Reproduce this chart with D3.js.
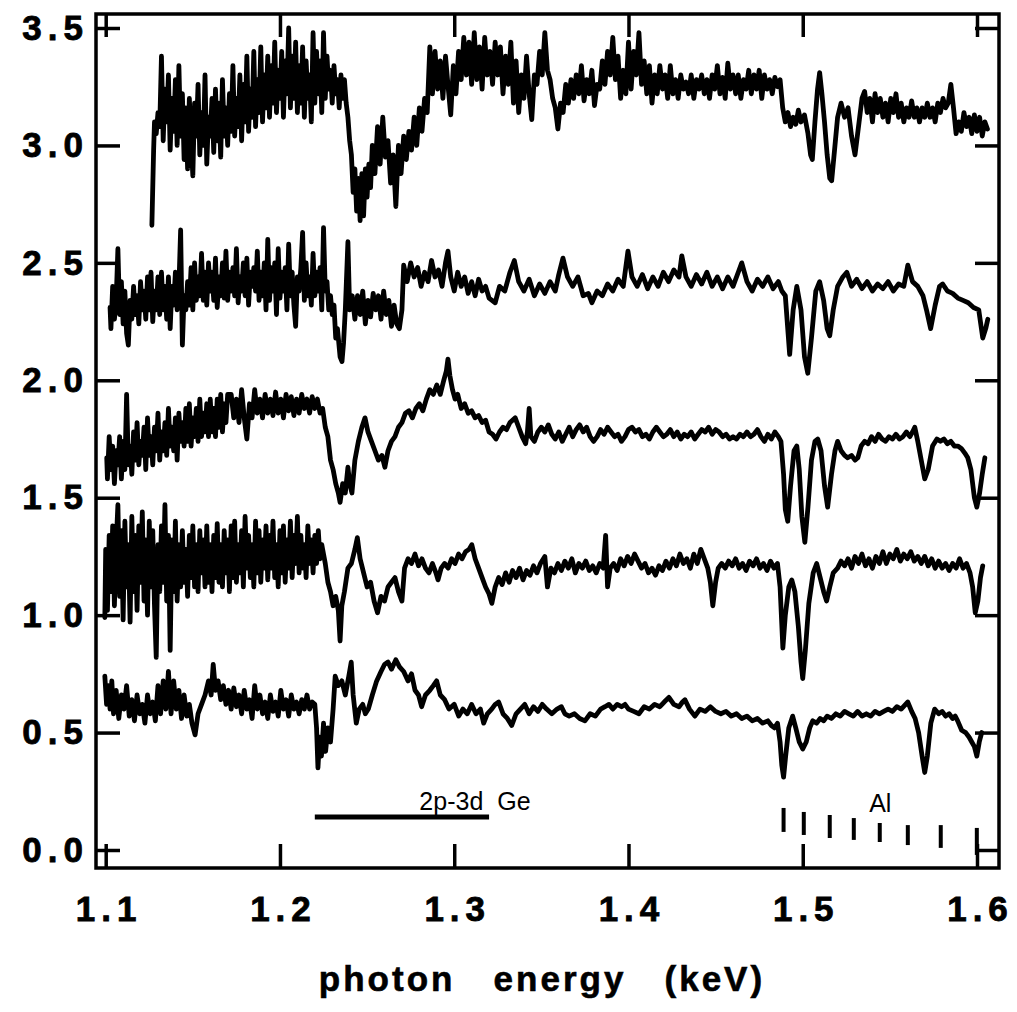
<!DOCTYPE html>
<html>
<head>
<meta charset="utf-8">
<script src="https://cdn.jsdelivr.net/npm/d3@7"></script>
<style>
  html, body { margin: 0; padding: 0; background: #fff; }
  svg { display: block; }
</style>
</head>
<body>
<svg id="chart" width="1017" height="1012"></svg>
<script>
// ---------------- DATA ----------------
const xTicks = [1.1, 1.2, 1.3, 1.4, 1.5, 1.6];
const yTicks = [0.0, 0.5, 1.0, 1.5, 2.0, 2.5, 3.0, 3.5];
const xTitle = "photon   energy   (keV)";
const geLabel = "2p-3d  Ge";
const geRange = [1.22, 1.32];
const alLabel = "Al";
const alLines = [1.489, 1.5006, 1.5155, 1.5293, 1.5442, 1.5603, 1.5792, 1.5999];
const alTops = [0.179, 0.162, 0.149, 0.136, 0.115, 0.106, 0.106, 0.094];
const alBottoms = [0.077, 0.064, 0.051, 0.043, 0.034, 0.021, 0.009, -0.021];

// detector channel width (keV) used by the densely sampled noisy segments
const channelStep = 0.001;

// ---- spectrum 1 (top) ----
const spectrum1Head = [[1.1265,2.66],[1.1275,2.98]];
const spectrum1DenseStart = 1.128;
const spectrum1Dense = [3.10,3.05,3.14,3.08,3.38,3.02,3.24,3.10,3.30,2.98,3.20,3.06,3.28,3.00,3.34,3.04,3.22,2.94,3.16,2.90,3.20,3.02,2.87,3.18,3.04,3.26,2.96,3.14,3.00,3.30,2.92,3.12,3.04,3.20,2.97,3.24,3.02,3.18,2.95,3.28,3.04,3.16,3.00,3.22,3.06,3.34,3.04,3.20,3.08,3.30,3.02,3.26,3.10,3.38,3.06,3.24,3.12,3.40,3.08,3.28,3.14,3.42,3.10,3.30,3.16,3.38,3.12,3.34,3.18,3.44,3.14,3.32,3.20,3.40,3.12,3.36,3.22,3.50,3.16,3.38,3.20,3.44,3.14,3.34,3.18,3.42,3.12,3.36,3.20,3.30,3.10,3.48,3.18,3.40,3.22,3.36,3.14,3.48,3.20,3.38,3.24,3.32,3.18,3.34,3.22,3.28,3.16,3.30,3.20,3.28,3.18,3.12];
const spectrum1Tail = [[1.2400,3.02],[1.2410,2.96],[1.2420,2.80],[1.2430,2.90],[1.2440,2.72],[1.2450,2.86],[1.2460,2.68],[1.2470,2.88],[1.2480,2.70],[1.2490,2.90],[1.2500,2.78],[1.2510,2.92],[1.2520,2.82],[1.2530,3.00],[1.2545,2.88],[1.2560,3.08],[1.2575,2.92],[1.2590,3.12],[1.2605,2.95],[1.2620,3.02],[1.2635,2.84],[1.2650,2.96],[1.2665,2.74],[1.2680,3.00],[1.2695,2.88],[1.2710,3.04],[1.2725,2.94],[1.2740,3.06],[1.2755,2.98],[1.2770,3.12],[1.2785,3.00],[1.2800,3.16],[1.2815,3.06],[1.2830,3.20],[1.2845,3.14],[1.2860,3.42],[1.2875,3.22],[1.2890,3.40],[1.2905,3.24],[1.2920,3.36],[1.2935,3.20],[1.2950,3.38],[1.2965,3.25],[1.2980,3.13],[1.2995,3.34],[1.3010,3.22],[1.3025,3.40],[1.3040,3.28],[1.3055,3.46],[1.3070,3.30],[1.3085,3.44],[1.3100,3.26],[1.3115,3.48],[1.3130,3.28],[1.3145,3.42],[1.3160,3.24],[1.3175,3.46],[1.3190,3.30],[1.3205,3.40],[1.3220,3.26],[1.3235,3.44],[1.3250,3.30],[1.3265,3.42],[1.3280,3.22],[1.3295,3.38],[1.3310,3.26],[1.3325,3.44],[1.3340,3.18],[1.3355,3.36],[1.3370,3.14],[1.3385,3.30],[1.3400,3.20],[1.3415,3.38],[1.3430,3.22],[1.3445,3.11],[1.3460,3.30],[1.3475,3.26],[1.3490,3.40],[1.3505,3.30],[1.3520,3.48],[1.3535,3.32],[1.3550,3.28],[1.3565,3.20],[1.3580,3.16],[1.3595,3.07],[1.3610,3.18],[1.3625,3.14],[1.3640,3.26],[1.3655,3.18],[1.3670,3.28],[1.3685,3.20],[1.3700,3.30],[1.3715,3.22],[1.3730,3.34],[1.3745,3.19],[1.3760,3.28],[1.3775,3.22],[1.3790,3.32],[1.3805,3.17],[1.3820,3.26],[1.3835,3.24],[1.3850,3.36],[1.3865,3.26],[1.3880,3.40],[1.3895,3.30],[1.3910,3.46],[1.3925,3.28],[1.3940,3.38],[1.3955,3.20],[1.3970,3.32],[1.3985,3.22],[1.4000,3.44],[1.4015,3.24],[1.4030,3.40],[1.4045,3.30],[1.4060,3.48],[1.4075,3.26],[1.4090,3.36],[1.4105,3.22],[1.4120,3.34],[1.4135,3.18],[1.4150,3.30],[1.4165,3.22],[1.4180,3.34],[1.4195,3.24],[1.4210,3.30],[1.4225,3.20],[1.4240,3.34],[1.4255,3.22],[1.4270,3.28],[1.4285,3.20],[1.4300,3.30],[1.4315,3.24],[1.4330,3.27],[1.4345,3.22],[1.4360,3.30],[1.4375,3.20],[1.4390,3.28],[1.4405,3.24],[1.4420,3.30],[1.4435,3.22],[1.4450,3.28],[1.4465,3.20],[1.4480,3.30],[1.4495,3.24],[1.4510,3.34],[1.4525,3.22],[1.4540,3.29],[1.4555,3.20],[1.4570,3.35],[1.4585,3.24],[1.4600,3.30],[1.4615,3.22],[1.4630,3.30],[1.4645,3.20],[1.4660,3.28],[1.4675,3.24],[1.4690,3.32],[1.4705,3.22],[1.4720,3.30],[1.4735,3.24],[1.4750,3.32],[1.4765,3.20],[1.4780,3.30],[1.4795,3.24],[1.4810,3.28],[1.4825,3.22],[1.4840,3.29],[1.4855,3.25],[1.4870,3.28],[1.4885,3.16],[1.4900,3.10],[1.4915,3.14],[1.4930,3.08],[1.4945,3.12],[1.4960,3.09],[1.4975,3.15],[1.4990,3.10],[1.5010,3.13],[1.5030,3.05],[1.5045,2.96],[1.5055,2.94],[1.5070,3.10],[1.5085,3.24],[1.5097,3.31],[1.5110,3.22],[1.5125,3.10],[1.5140,2.96],[1.5155,2.86],[1.5166,2.85],[1.5180,2.96],[1.5200,3.12],[1.5220,3.18],[1.5240,3.12],[1.5260,3.16],[1.5280,3.04],[1.5300,2.96],[1.5320,3.08],[1.5340,3.20],[1.5355,3.23],[1.5370,3.14],[1.5385,3.20],[1.5400,3.10],[1.5415,3.22],[1.5430,3.14],[1.5445,3.20],[1.5460,3.12],[1.5475,3.18],[1.5490,3.10],[1.5505,3.20],[1.5520,3.14],[1.5535,3.22],[1.5550,3.12],[1.5565,3.18],[1.5580,3.10],[1.5595,3.16],[1.5610,3.12],[1.5625,3.19],[1.5640,3.12],[1.5655,3.16],[1.5670,3.10],[1.5685,3.16],[1.5700,3.12],[1.5715,3.18],[1.5730,3.12],[1.5745,3.16],[1.5760,3.10],[1.5775,3.18],[1.5790,3.14],[1.5805,3.20],[1.5820,3.16],[1.5835,3.18],[1.5850,3.26],[1.5865,3.16],[1.5880,3.05],[1.5895,3.10],[1.5910,3.06],[1.5925,3.14],[1.5940,3.08],[1.5955,3.12],[1.5970,3.05],[1.5985,3.13],[1.6000,3.06],[1.6015,3.12],[1.6030,3.04],[1.6045,3.10],[1.6060,3.07]];

// ---- spectrum 2 ----
const spectrum2Head = [[1.1025,2.31]];
const spectrum2DenseStart = 1.103;
const spectrum2Dense = [2.22,2.40,2.26,2.34,2.56,2.28,2.42,2.24,2.38,2.20,2.15,2.34,2.26,2.40,2.28,2.36,2.24,2.42,2.30,2.38,2.26,2.44,2.30,2.46,2.25,2.38,2.30,2.44,2.28,2.46,2.30,2.40,2.26,2.44,2.22,2.40,2.32,2.46,2.30,2.40,2.64,2.15,2.36,2.30,2.42,2.32,2.48,2.30,2.50,2.34,2.44,2.36,2.54,2.34,2.46,2.32,2.50,2.38,2.46,2.34,2.52,2.31,2.44,2.36,2.50,2.35,2.55,2.34,2.46,2.38,2.48,2.36,2.56,2.33,2.44,2.38,2.50,2.36,2.52,2.32,2.46,2.40,2.48,2.38,2.55,2.34,2.46,2.36,2.50,2.30,2.60,2.34,2.48,2.38,2.50,2.28,2.56,2.35,2.46,2.38,2.48,2.30,2.58,2.36,2.46,2.32,2.23,2.44,2.38,2.48,2.63,2.34,2.50,2.36,2.44,2.32,2.54,2.36,2.46,2.38,2.48,2.30,2.65,2.38,2.42,2.30,2.36,2.28,2.32,2.18,2.22];
const spectrum2Tail = [[1.2345,2.10],[1.2356,2.08],[1.2365,2.16],[1.2375,2.30],[1.2390,2.59],[1.2400,2.30],[1.2415,2.36],[1.2430,2.26],[1.2445,2.36],[1.2460,2.28],[1.2475,2.38],[1.2490,2.24],[1.2505,2.34],[1.2520,2.27],[1.2535,2.37],[1.2550,2.30],[1.2565,2.36],[1.2580,2.26],[1.2595,2.38],[1.2610,2.28],[1.2625,2.34],[1.2640,2.23],[1.2655,2.32],[1.2670,2.24],[1.2685,2.22],[1.2700,2.30],[1.2710,2.49],[1.2730,2.42],[1.2750,2.50],[1.2770,2.44],[1.2790,2.48],[1.2810,2.40],[1.2830,2.46],[1.2850,2.42],[1.2870,2.51],[1.2890,2.44],[1.2910,2.47],[1.2930,2.40],[1.2950,2.50],[1.2964,2.55],[1.2980,2.44],[1.3000,2.38],[1.3020,2.46],[1.3040,2.40],[1.3060,2.44],[1.3080,2.37],[1.3100,2.42],[1.3120,2.36],[1.3140,2.43],[1.3160,2.38],[1.3180,2.40],[1.3200,2.35],[1.3235,2.33],[1.3260,2.40],[1.3290,2.38],[1.3320,2.46],[1.3345,2.51],[1.3370,2.42],[1.3400,2.38],[1.3430,2.43],[1.3460,2.36],[1.3490,2.41],[1.3520,2.37],[1.3550,2.42],[1.3580,2.38],[1.3600,2.45],[1.3624,2.52],[1.3650,2.44],[1.3680,2.40],[1.3710,2.44],[1.3740,2.36],[1.3770,2.37],[1.3790,2.33],[1.3820,2.38],[1.3850,2.36],[1.3880,2.41],[1.3910,2.38],[1.3940,2.43],[1.3970,2.40],[1.3997,2.55],[1.4020,2.44],[1.4050,2.40],[1.4080,2.45],[1.4110,2.39],[1.4140,2.44],[1.4170,2.40],[1.4200,2.46],[1.4230,2.42],[1.4260,2.47],[1.4290,2.44],[1.4306,2.53],[1.4330,2.44],[1.4360,2.40],[1.4390,2.45],[1.4420,2.41],[1.4450,2.46],[1.4480,2.40],[1.4510,2.44],[1.4540,2.39],[1.4570,2.44],[1.4600,2.40],[1.4630,2.46],[1.4650,2.50],[1.4680,2.42],[1.4710,2.38],[1.4740,2.43],[1.4770,2.40],[1.4800,2.44],[1.4830,2.39],[1.4860,2.42],[1.4880,2.38],[1.4900,2.36],[1.4925,2.11],[1.4945,2.30],[1.4966,2.40],[1.4990,2.30],[1.5010,2.10],[1.5029,2.03],[1.5050,2.18],[1.5075,2.38],[1.5097,2.42],[1.5120,2.34],[1.5140,2.22],[1.5155,2.19],[1.5175,2.30],[1.5200,2.40],[1.5230,2.44],[1.5253,2.46],[1.5280,2.40],[1.5310,2.43],[1.5340,2.39],[1.5370,2.42],[1.5400,2.38],[1.5430,2.41],[1.5460,2.39],[1.5490,2.42],[1.5520,2.38],[1.5550,2.41],[1.5580,2.40],[1.5603,2.49],[1.5630,2.42],[1.5660,2.40],[1.5690,2.36],[1.5710,2.30],[1.5734,2.22],[1.5760,2.32],[1.5785,2.40],[1.5803,2.41],[1.5830,2.38],[1.5860,2.37],[1.5890,2.35],[1.5920,2.34],[1.5950,2.33],[1.5980,2.31],[1.6010,2.30],[1.6033,2.18],[1.6050,2.22],[1.6062,2.26]];

// ---- spectrum 3 ----
const spectrum3Head = [[1.1006,1.67]];
const spectrum3DenseStart = 1.101;
const spectrum3Dense = [1.58,1.76,1.62,1.72,1.56,1.70,1.64,1.76,1.58,1.74,1.62,1.94,1.64,1.72,1.60,1.78,1.66,1.82,1.64,1.74,1.68,1.80,1.62,1.84,1.68,1.76,1.64,1.80,1.70,1.86,1.66,1.78,1.70,1.82,1.68,1.88,1.72,1.80,1.70,1.84,1.66,1.86,1.74,1.82,1.72,1.88,1.74,1.90,1.72,1.84,1.76,1.88,1.74,1.92,1.76,1.86,1.78,1.90,1.76,1.92,1.78,1.88,1.76,1.92,1.80,1.94,1.78,1.90,1.82,1.94];
const spectrum3Tail = [[1.1720,1.94],[1.1735,1.84],[1.1750,1.92],[1.1765,1.82],[1.1780,1.96],[1.1795,1.84],[1.1810,1.75],[1.1825,1.90],[1.1840,1.84],[1.1855,1.96],[1.1870,1.86],[1.1885,1.92],[1.1900,1.84],[1.1915,1.94],[1.1930,1.86],[1.1945,1.92],[1.1960,1.85],[1.1975,1.95],[1.1990,1.86],[1.2005,1.92],[1.2020,1.84],[1.2035,1.94],[1.2050,1.87],[1.2065,1.93],[1.2080,1.85],[1.2095,1.92],[1.2110,1.86],[1.2125,1.94],[1.2140,1.88],[1.2155,1.92],[1.2170,1.86],[1.2185,1.93],[1.2200,1.88],[1.2215,1.92],[1.2230,1.86],[1.2245,1.88],[1.2260,1.80],[1.2275,1.76],[1.2290,1.66],[1.2305,1.62],[1.2320,1.56],[1.2335,1.52],[1.2345,1.48],[1.2360,1.56],[1.2375,1.52],[1.2390,1.63],[1.2400,1.56],[1.2413,1.52],[1.2430,1.66],[1.2450,1.74],[1.2470,1.80],[1.2488,1.84],[1.2505,1.78],[1.2525,1.74],[1.2545,1.70],[1.2565,1.66],[1.2585,1.68],[1.2602,1.63],[1.2620,1.70],[1.2640,1.74],[1.2660,1.76],[1.2680,1.80],[1.2700,1.82],[1.2720,1.86],[1.2740,1.87],[1.2760,1.84],[1.2780,1.88],[1.2800,1.90],[1.2820,1.87],[1.2840,1.92],[1.2860,1.96],[1.2880,1.94],[1.2900,1.98],[1.2920,1.94],[1.2940,2.00],[1.2955,2.04],[1.2964,2.09],[1.2975,2.02],[1.2990,1.96],[1.3005,1.92],[1.3020,1.94],[1.3040,1.88],[1.3060,1.90],[1.3080,1.86],[1.3100,1.87],[1.3120,1.84],[1.3140,1.85],[1.3160,1.82],[1.3180,1.83],[1.3200,1.78],[1.3220,1.77],[1.3240,1.75],[1.3260,1.78],[1.3280,1.80],[1.3300,1.79],[1.3320,1.82],[1.3350,1.84],[1.3370,1.80],[1.3390,1.76],[1.3410,1.73],[1.3420,1.78],[1.3430,1.88],[1.3440,1.76],[1.3460,1.74],[1.3480,1.78],[1.3500,1.80],[1.3520,1.78],[1.3540,1.81],[1.3560,1.77],[1.3580,1.75],[1.3600,1.78],[1.3620,1.74],[1.3640,1.77],[1.3660,1.80],[1.3680,1.76],[1.3700,1.79],[1.3720,1.81],[1.3740,1.78],[1.3760,1.80],[1.3780,1.76],[1.3800,1.74],[1.3820,1.76],[1.3840,1.79],[1.3860,1.77],[1.3880,1.80],[1.3900,1.78],[1.3920,1.76],[1.3940,1.77],[1.3960,1.74],[1.3980,1.76],[1.4000,1.79],[1.4020,1.80],[1.4040,1.78],[1.4060,1.79],[1.4080,1.76],[1.4100,1.77],[1.4120,1.75],[1.4140,1.78],[1.4160,1.80],[1.4180,1.78],[1.4200,1.76],[1.4220,1.77],[1.4240,1.79],[1.4260,1.76],[1.4280,1.78],[1.4300,1.75],[1.4320,1.77],[1.4340,1.76],[1.4360,1.78],[1.4380,1.75],[1.4400,1.77],[1.4420,1.79],[1.4440,1.78],[1.4460,1.80],[1.4480,1.77],[1.4500,1.79],[1.4520,1.78],[1.4540,1.76],[1.4560,1.77],[1.4580,1.75],[1.4600,1.76],[1.4620,1.75],[1.4640,1.77],[1.4660,1.76],[1.4680,1.78],[1.4700,1.76],[1.4720,1.77],[1.4740,1.79],[1.4760,1.76],[1.4780,1.74],[1.4800,1.77],[1.4820,1.75],[1.4840,1.78],[1.4860,1.76],[1.4875,1.74],[1.4890,1.60],[1.4900,1.45],[1.4914,1.40],[1.4930,1.55],[1.4950,1.70],[1.4966,1.72],[1.4980,1.62],[1.4995,1.42],[1.5012,1.31],[1.5030,1.46],[1.5050,1.66],[1.5070,1.74],[1.5086,1.75],[1.5105,1.70],[1.5125,1.55],[1.5143,1.46],[1.5165,1.60],[1.5185,1.70],[1.5200,1.74],[1.5220,1.70],[1.5240,1.68],[1.5258,1.67],[1.5280,1.68],[1.5300,1.66],[1.5316,1.67],[1.5335,1.72],[1.5355,1.74],[1.5375,1.73],[1.5395,1.76],[1.5415,1.74],[1.5435,1.77],[1.5455,1.75],[1.5475,1.74],[1.5495,1.76],[1.5515,1.75],[1.5535,1.77],[1.5555,1.75],[1.5575,1.76],[1.5595,1.78],[1.5615,1.76],[1.5630,1.78],[1.5643,1.80],[1.5660,1.74],[1.5680,1.66],[1.5700,1.58],[1.5720,1.62],[1.5745,1.72],[1.5770,1.75],[1.5790,1.74],[1.5810,1.75],[1.5830,1.73],[1.5850,1.74],[1.5870,1.72],[1.5890,1.72],[1.5910,1.71],[1.5930,1.69],[1.5947,1.67],[1.5965,1.62],[1.5985,1.50],[1.5999,1.46],[1.6015,1.52],[1.6030,1.60],[1.6045,1.67]];

// ---- spectrum 4 ----
const spectrum4Head = [[1.0995,0.99]];
const spectrum4DenseStart = 1.100;
const spectrum4Dense = [1.28,1.02,1.34,1.10,1.38,1.04,1.30,1.47,1.08,1.36,0.98,1.40,1.12,1.30,0.97,1.42,1.10,1.34,1.02,1.38,1.14,1.44,1.06,1.32,1.00,1.40,1.12,1.36,1.04,0.82,1.30,1.10,1.38,1.14,1.47,1.06,1.34,0.85,1.32,1.10,1.40,1.06,1.30,1.12,1.36,1.14,1.28,1.08,1.34,1.16,1.38,1.12,1.30,1.10,1.36,1.18,1.32,1.12,1.38,1.14,1.30,1.10,1.34,1.16,1.39,1.14,1.30,1.12,1.36,1.18,1.32,1.10,1.38,1.16,1.40,1.14,1.30,1.18,1.36,1.12,1.42,1.20,1.34,1.16,1.30,1.12,1.40,1.18,1.36,1.14,1.32,1.20,1.38,1.15,1.34,1.20,1.40,1.16,1.30,1.12,1.36,1.18,1.38,1.14,1.32,1.20,1.40,1.16,1.34,1.22,1.42,1.18,1.34,1.20,1.30,1.16,1.38,1.22,1.32,1.18,1.34,1.22,1.36,1.24,1.30];
const spectrum4Tail = [[1.2245,1.28],[1.2260,1.22],[1.2275,1.14],[1.2290,1.10],[1.2305,1.04],[1.2320,1.08],[1.2335,1.02],[1.2345,0.89],[1.2355,1.04],[1.2370,1.10],[1.2390,1.20],[1.2410,1.22],[1.2430,1.28],[1.2444,1.33],[1.2460,1.24],[1.2480,1.18],[1.2500,1.12],[1.2520,1.14],[1.2540,1.06],[1.2560,1.01],[1.2580,1.08],[1.2600,1.06],[1.2620,1.12],[1.2640,1.14],[1.2660,1.16],[1.2680,1.10],[1.2700,1.06],[1.2715,1.20],[1.2735,1.24],[1.2755,1.22],[1.2775,1.26],[1.2795,1.21],[1.2815,1.24],[1.2835,1.20],[1.2855,1.18],[1.2875,1.22],[1.2895,1.18],[1.2907,1.15],[1.2925,1.20],[1.2945,1.22],[1.2965,1.20],[1.2985,1.24],[1.3005,1.22],[1.3025,1.26],[1.3045,1.24],[1.3065,1.27],[1.3085,1.28],[1.3101,1.30],[1.3120,1.24],[1.3140,1.20],[1.3160,1.16],[1.3180,1.12],[1.3200,1.09],[1.3216,1.05],[1.3235,1.12],[1.3255,1.16],[1.3275,1.13],[1.3295,1.18],[1.3315,1.14],[1.3335,1.19],[1.3355,1.16],[1.3375,1.20],[1.3395,1.15],[1.3415,1.19],[1.3435,1.17],[1.3455,1.21],[1.3475,1.18],[1.3495,1.22],[1.3520,1.25],[1.3535,1.12],[1.3555,1.20],[1.3575,1.18],[1.3595,1.22],[1.3615,1.19],[1.3635,1.23],[1.3655,1.20],[1.3675,1.24],[1.3695,1.18],[1.3715,1.22],[1.3735,1.20],[1.3755,1.23],[1.3775,1.19],[1.3795,1.21],[1.3815,1.18],[1.3835,1.22],[1.3855,1.20],[1.3869,1.34],[1.3880,1.12],[1.3895,1.20],[1.3915,1.22],[1.3935,1.19],[1.3955,1.24],[1.3975,1.21],[1.3995,1.25],[1.4015,1.22],[1.4035,1.26],[1.4055,1.23],[1.4075,1.20],[1.4095,1.22],[1.4115,1.18],[1.4135,1.20],[1.4155,1.17],[1.4175,1.21],[1.4195,1.19],[1.4215,1.23],[1.4235,1.20],[1.4255,1.24],[1.4275,1.21],[1.4295,1.26],[1.4315,1.22],[1.4335,1.24],[1.4355,1.20],[1.4375,1.26],[1.4395,1.22],[1.4415,1.28],[1.4435,1.24],[1.4455,1.20],[1.4470,1.14],[1.4484,1.04],[1.4500,1.14],[1.4515,1.20],[1.4535,1.22],[1.4555,1.20],[1.4575,1.23],[1.4595,1.21],[1.4615,1.24],[1.4635,1.20],[1.4655,1.22],[1.4675,1.19],[1.4695,1.23],[1.4715,1.21],[1.4735,1.24],[1.4755,1.20],[1.4775,1.22],[1.4795,1.19],[1.4815,1.23],[1.4835,1.20],[1.4855,1.22],[1.4870,1.12],[1.4886,0.86],[1.4900,1.00],[1.4920,1.12],[1.4937,1.15],[1.4955,1.10],[1.4975,0.95],[1.4990,0.80],[1.5000,0.73],[1.5015,0.85],[1.5035,1.05],[1.5060,1.18],[1.5080,1.22],[1.5100,1.16],[1.5120,1.10],[1.5137,1.06],[1.5155,1.12],[1.5175,1.18],[1.5200,1.20],[1.5220,1.23],[1.5240,1.21],[1.5260,1.24],[1.5280,1.20],[1.5300,1.25],[1.5320,1.22],[1.5340,1.26],[1.5360,1.21],[1.5380,1.24],[1.5400,1.20],[1.5420,1.25],[1.5440,1.22],[1.5460,1.27],[1.5480,1.22],[1.5500,1.26],[1.5520,1.24],[1.5540,1.28],[1.5560,1.23],[1.5580,1.26],[1.5600,1.24],[1.5620,1.27],[1.5640,1.23],[1.5660,1.25],[1.5680,1.22],[1.5700,1.25],[1.5720,1.21],[1.5740,1.24],[1.5760,1.20],[1.5780,1.23],[1.5800,1.20],[1.5820,1.22],[1.5840,1.19],[1.5860,1.22],[1.5880,1.20],[1.5900,1.24],[1.5920,1.20],[1.5940,1.22],[1.5960,1.18],[1.5975,1.12],[1.5990,1.01],[1.6005,1.06],[1.6020,1.16],[1.6033,1.21]];

// ---- spectrum 5 (bottom) ----
const spectrum5 = [[1.0995,0.74],[1.1005,0.62],[1.1015,0.70],[1.1025,0.60],[1.1035,0.72],[1.1045,0.58],[1.1060,0.68],[1.1075,0.56],[1.1090,0.66],[1.1105,0.60],[1.1120,0.70],[1.1135,0.57],[1.1150,0.64],[1.1165,0.55],[1.1180,0.66],[1.1195,0.58],[1.1210,0.62],[1.1225,0.54],[1.1240,0.66],[1.1255,0.58],[1.1270,0.63],[1.1285,0.55],[1.1300,0.70],[1.1315,0.58],[1.1330,0.72],[1.1345,0.60],[1.1360,0.76],[1.1375,0.58],[1.1390,0.72],[1.1405,0.60],[1.1420,0.68],[1.1435,0.56],[1.1450,0.66],[1.1465,0.57],[1.1480,0.62],[1.1495,0.54],[1.1513,0.49],[1.1530,0.58],[1.1550,0.62],[1.1570,0.66],[1.1590,0.72],[1.1605,0.66],[1.1617,0.79],[1.1630,0.68],[1.1645,0.72],[1.1660,0.64],[1.1675,0.70],[1.1690,0.62],[1.1705,0.68],[1.1720,0.60],[1.1735,0.69],[1.1750,0.61],[1.1765,0.66],[1.1780,0.58],[1.1795,0.68],[1.1810,0.60],[1.1825,0.64],[1.1840,0.56],[1.1855,0.70],[1.1870,0.60],[1.1885,0.66],[1.1900,0.58],[1.1915,0.63],[1.1930,0.56],[1.1945,0.66],[1.1960,0.59],[1.1975,0.63],[1.1990,0.57],[1.2005,0.68],[1.2020,0.60],[1.2035,0.64],[1.2050,0.57],[1.2065,0.66],[1.2080,0.60],[1.2095,0.63],[1.2110,0.58],[1.2125,0.64],[1.2140,0.60],[1.2155,0.66],[1.2170,0.60],[1.2185,0.63],[1.2200,0.62],[1.2210,0.52],[1.2218,0.35],[1.2228,0.48],[1.2238,0.40],[1.2250,0.54],[1.2262,0.42],[1.2275,0.52],[1.2290,0.46],[1.2305,0.60],[1.2317,0.74],[1.2335,0.70],[1.2355,0.72],[1.2375,0.66],[1.2395,0.74],[1.2409,0.80],[1.2420,0.66],[1.2438,0.54],[1.2455,0.60],[1.2475,0.62],[1.2490,0.58],[1.2507,0.60],[1.2530,0.66],[1.2555,0.72],[1.2580,0.76],[1.2600,0.79],[1.2620,0.80],[1.2640,0.77],[1.2665,0.81],[1.2686,0.78],[1.2710,0.76],[1.2735,0.72],[1.2755,0.75],[1.2775,0.68],[1.2795,0.66],[1.2813,0.61],[1.2835,0.66],[1.2860,0.68],[1.2880,0.70],[1.2899,0.72],[1.2920,0.66],[1.2945,0.64],[1.2970,0.60],[1.3000,0.62],[1.3026,0.57],[1.3050,0.60],[1.3075,0.58],[1.3100,0.62],[1.3125,0.58],[1.3150,0.60],[1.3169,0.54],[1.3190,0.58],[1.3215,0.60],[1.3235,0.62],[1.3255,0.63],[1.3280,0.58],[1.3305,0.56],[1.3330,0.53],[1.3355,0.58],[1.3380,0.60],[1.3405,0.62],[1.3430,0.58],[1.3455,0.61],[1.3480,0.59],[1.3505,0.62],[1.3530,0.60],[1.3560,0.58],[1.3590,0.60],[1.3615,0.61],[1.3635,0.58],[1.3660,0.57],[1.3690,0.58],[1.3720,0.56],[1.3750,0.55],[1.3780,0.58],[1.3810,0.57],[1.3840,0.60],[1.3865,0.61],[1.3888,0.62],[1.3910,0.60],[1.3935,0.62],[1.3960,0.61],[1.3980,0.62],[1.4000,0.60],[1.4030,0.59],[1.4060,0.58],[1.4090,0.61],[1.4120,0.60],[1.4150,0.62],[1.4180,0.61],[1.4205,0.63],[1.4232,0.65],[1.4260,0.62],[1.4290,0.61],[1.4310,0.63],[1.4324,0.64],[1.4350,0.60],[1.4381,0.57],[1.4410,0.60],[1.4440,0.59],[1.4470,0.61],[1.4500,0.59],[1.4530,0.58],[1.4560,0.59],[1.4590,0.57],[1.4620,0.58],[1.4650,0.56],[1.4680,0.57],[1.4710,0.55],[1.4740,0.56],[1.4770,0.54],[1.4800,0.55],[1.4820,0.53],[1.4838,0.52],[1.4855,0.54],[1.4870,0.46],[1.4880,0.36],[1.4890,0.31],[1.4902,0.40],[1.4920,0.52],[1.4942,0.57],[1.4960,0.52],[1.4980,0.46],[1.5000,0.43],[1.5020,0.46],[1.5040,0.52],[1.5057,0.55],[1.5080,0.54],[1.5100,0.56],[1.5120,0.55],[1.5140,0.57],[1.5165,0.56],[1.5190,0.58],[1.5215,0.57],[1.5240,0.59],[1.5265,0.58],[1.5290,0.57],[1.5315,0.59],[1.5340,0.57],[1.5365,0.58],[1.5390,0.57],[1.5415,0.59],[1.5440,0.58],[1.5465,0.59],[1.5490,0.60],[1.5515,0.59],[1.5540,0.61],[1.5565,0.60],[1.5590,0.62],[1.5603,0.63],[1.5625,0.59],[1.5645,0.56],[1.5665,0.50],[1.5685,0.40],[1.5700,0.33],[1.5715,0.40],[1.5735,0.54],[1.5757,0.60],[1.5780,0.58],[1.5800,0.59],[1.5820,0.57],[1.5840,0.58],[1.5860,0.56],[1.5875,0.57],[1.5889,0.55],[1.5912,0.51],[1.5935,0.50],[1.5955,0.48],[1.5970,0.46],[1.5985,0.44],[1.5999,0.40],[1.6013,0.46],[1.6027,0.50]];

// assemble: head pairs + densely sampled channels + tail pairs
function assemble(head, denseStart, dense, tail) {
  const mid = dense.map((v, i) => [Math.round((denseStart + i * channelStep) * 10000) / 10000, v]);
  return head.concat(mid, tail);
}
const spectra = [
  assemble(spectrum1Head, spectrum1DenseStart, spectrum1Dense, spectrum1Tail),
  assemble(spectrum2Head, spectrum2DenseStart, spectrum2Dense, spectrum2Tail),
  assemble(spectrum3Head, spectrum3DenseStart, spectrum3Dense, spectrum3Tail),
  assemble(spectrum4Head, spectrum4DenseStart, spectrum4Dense, spectrum4Tail),
  spectrum5
];

// ---------------- DRAW ----------------
const svg = d3.select("#chart");
const frame = { l: 96, r: 999, t: 14, b: 868 };
const x = d3.scaleLinear().domain([1.1, 1.6]).range([105.7, 977]);
const y = d3.scaleLinear().domain([0, 3.5]).range([850, 28]);
const FONT = "'Liberation Sans', Arial, Helvetica, sans-serif";

// frame
svg.append("rect")
  .attr("x", frame.l).attr("y", frame.t)
  .attr("width", frame.r - frame.l).attr("height", frame.b - frame.t)
  .attr("fill", "none").attr("stroke", "#000").attr("stroke-width", 3.5);

function styleAxis(g) {
  g.select(".domain").remove();
  g.selectAll(".tick line").attr("stroke", "#000").attr("stroke-width", 3.5);
}

// left axis (labels outside, ticks inward)
const yLeft = svg.append("g").attr("transform", `translate(${frame.l},0)`)
  .call(d3.axisLeft(y).tickValues(yTicks).tickSize(-24).tickPadding(13)
    .tickFormat(d3.format(".1f")));
styleAxis(yLeft);
yLeft.selectAll(".tick text")
  .attr("font-family", FONT).attr("font-weight", "bold").attr("font-size", 35)
  .attr("letter-spacing", "6px").attr("fill", "#000").attr("dx", "6px")
  .attr("stroke", "#000").attr("stroke-width", 0.8);

// right axis (ticks only)
const yRight = svg.append("g").attr("transform", `translate(${frame.r},0)`)
  .call(d3.axisRight(y).tickValues(yTicks).tickSize(-24).tickFormat(""));
styleAxis(yRight);

// bottom axis
const xBottom = svg.append("g").attr("transform", `translate(0,${frame.b})`)
  .call(d3.axisBottom(x).tickValues(xTicks).tickSize(-24).tickPadding(28)
    .tickFormat(d3.format(".1f")));
styleAxis(xBottom);
xBottom.selectAll(".tick text")
  .attr("font-family", FONT).attr("font-weight", "bold").attr("font-size", 35)
  .attr("letter-spacing", "6px").attr("fill", "#000").attr("dx", "3px")
  .attr("stroke", "#000").attr("stroke-width", 0.8);

// top axis
const xTop = svg.append("g").attr("transform", `translate(0,${frame.t})`)
  .call(d3.axisTop(x).tickValues(xTicks).tickSize(-23).tickFormat(""));
styleAxis(xTop);

// axis title
svg.append("text")
  .attr("x", 542).attr("y", 991)
  .attr("text-anchor", "middle")
  .attr("font-family", FONT).attr("font-weight", "bold").attr("font-size", 35)
  .attr("letter-spacing", "3px")
  .attr("stroke", "#000").attr("stroke-width", 0.6)
  .style("white-space", "pre")
  .text(xTitle);

// spectra
const line = d3.line().x(d => x(d[0])).y(d => y(d[1]));
svg.append("g").selectAll("path").data(spectra).join("path")
  .attr("d", line)
  .attr("fill", "none").attr("stroke", "#000")
  .attr("stroke-width", 4.8).attr("stroke-linejoin", "round").attr("stroke-linecap", "round");

// Ge 2p-3d bar
svg.append("line")
  .attr("x1", x(geRange[0])).attr("x2", x(geRange[1]))
  .attr("y1", y(0.14)).attr("y2", y(0.14))
  .attr("stroke", "#000").attr("stroke-width", 5);
svg.append("text")
  .attr("x", x(1.3119)).attr("y", y(0.17))
  .attr("text-anchor", "middle")
  .attr("font-family", FONT).attr("font-size", 25)
  .style("white-space", "pre")
  .text(geLabel);

// Al lines
svg.append("g").selectAll("line").data(alLines).join("line")
  .attr("x1", d => x(d)).attr("x2", d => x(d))
  .attr("y1", (d, i) => y(alBottoms[i])).attr("y2", (d, i) => y(alTops[i]))
  .attr("stroke", "#000").attr("stroke-width", 4);
svg.append("text")
  .attr("x", x(1.5445)).attr("y", y(0.16))
  .attr("text-anchor", "middle")
  .attr("font-family", FONT).attr("font-size", 25)
  .text(alLabel);
</script>
</body>
</html>
